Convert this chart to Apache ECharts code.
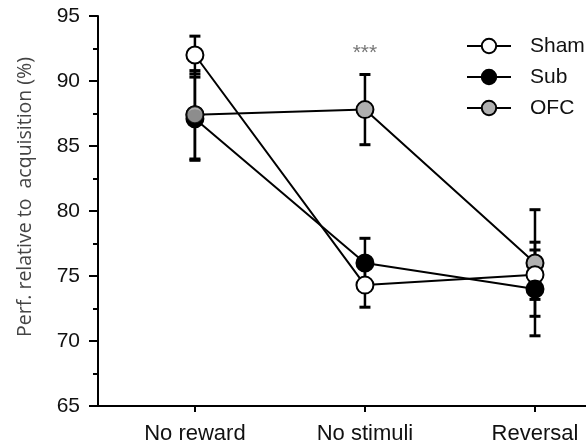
<!DOCTYPE html>
<html><head><meta charset="utf-8">
<script src="https://cdn.jsdelivr.net/npm/echarts@6/dist/echarts.min.js"></script>
<style>html,body{margin:0;padding:0;background:#fff}#c{width:586px;height:446px}</style>
</head><body><div id="c"></div>
<script>
const categories = ['No reward', 'No stimuli', 'Reversal'];
const shamMean = [92.0, 74.3, 75.1];
const shamErr  = [1.45, 1.7, 1.9];
const subMean  = [87.1, 76.0, 74.0];
const subErr   = [3.2, 1.9, 3.6];
const ofcMean  = [87.4, 87.8, 76.0];
const ofcErr   = [3.4, 2.7, 4.1];
const yTicks = [65, 70, 75, 80, 85, 90, 95];
const sigLabel = '***';

const FONT = 'Liberation Sans, Arial, Helvetica, sans-serif';
const idx = categories.map((_, i) => i);
const pts = arr => arr.map((v, i) => [i, v]);

function errSeries(name, mean, err) {
  return {
    type: 'custom', name: name + ' err', z: 1, silent: true,
    data: mean.map((v, i) => [i, v - err[i], v + err[i]]),
    renderItem: function (params, api) {
      const lo = api.coord([api.value(0), api.value(1)]);
      const hi = api.coord([api.value(0), api.value(2)]);
      const hw = 5.5;
      const st = { stroke: '#000', lineWidth: 2.5 };
      const cap = { stroke: '#000', lineWidth: 3 };
      return { type: 'group', children: [
        { type: 'line', shape: { x1: lo[0], y1: lo[1], x2: hi[0], y2: hi[1] }, style: st },
        { type: 'line', shape: { x1: lo[0] - hw, y1: lo[1], x2: lo[0] + hw, y2: lo[1] }, style: cap },
        { type: 'line', shape: { x1: hi[0] - hw, y1: hi[1], x2: hi[0] + hw, y2: hi[1] }, style: cap }
      ]};
    }
  };
}
function lineSeries(name, mean, fill, z) {
  return {
    type: 'line', name: name, data: pts(mean), z: z,
    symbol: 'circle', symbolSize: 17, showAllSymbol: true,
    lineStyle: { color: '#000', width: 2 },
    itemStyle: { color: fill, borderColor: '#000', borderWidth: 2 },
    emphasis: { disabled: true }
  };
}

const chart = echarts.init(document.getElementById('c'), null, { renderer: 'canvas' });
chart.setOption({
  animation: false,
  grid: { left: 98, right: 0, top: 16, bottom: 40 },
  legend: {
    left: 466, top: 35, orient: 'vertical', itemGap: 9, padding: 0,
    itemWidth: 44, itemHeight: 18,
    textStyle: { fontFamily: FONT, fontSize: 21, lineHeight: 22, color: '#111', padding: [0, 0, 0, 14] },
    data: ['Sham', 'Sub', 'OFC']
  },
  xAxis: {
    type: 'value', min: -0.57, max: 2.3,
    axisLine: { show: true, onZero: false, lineStyle: { color: '#000', width: 2 } },
    axisTick: { show: true, customValues: idx, length: 6, lineStyle: { color: '#000', width: 2 } },
    axisLabel: { customValues: idx, formatter: v => categories[Math.round(v)] || '',
      fontFamily: FONT, fontSize: 22, color: '#111', margin: 17 },
    splitLine: { show: false }
  },
  yAxis: {
    type: 'value', min: yTicks[0], max: yTicks[yTicks.length - 1], interval: 5,
    name: 'Perf. relative to  acquisition (%)', nameLocation: 'middle', nameGap: 63,
    nameTextStyle: { fontFamily: 'Open Sans, Noto Sans, sans-serif', fontSize: 19.5, color: '#444', padding: [0, 0, 0, 28] },
    axisLine: { show: true, onZero: false, lineStyle: { color: '#000', width: 2 } },
    axisTick: { show: true, length: 9, lineStyle: { color: '#000', width: 2 } },
    minorTick: { show: true, splitNumber: 2, length: 5, lineStyle: { color: '#000', width: 2 } },
    axisLabel: { fontFamily: FONT, fontSize: 21, color: '#111', margin: 18 },
    splitLine: { show: false }
  },
  series: [
    errSeries('OFC', ofcMean, ofcErr),
    errSeries('Sham', shamMean, shamErr),
    errSeries('Sub', subMean, subErr),
    lineSeries('OFC', ofcMean, '#b0b0b0', 2),
    Object.assign(lineSeries('Sham', shamMean, '#ffffff', 3), {
      markPoint: {
        symbol: 'circle', symbolSize: 1, itemStyle: { color: 'transparent' },
        label: { show: true, formatter: sigLabel, position: 'inside', fontFamily: FONT, fontSize: 21, color: '#777' },
        data: [{ coord: [1, 92.1] }]
      }
    }),
    lineSeries('Sub', subMean, '#000000', 4),
    {
      type: 'scatter', name: 'OFC', z: 5, data: [[0, ofcMean[0]]],
      symbol: 'circle', symbolSize: 17,
      itemStyle: { color: '#b0b0b0', borderColor: '#000', borderWidth: 2 },
      emphasis: { disabled: true }
    }
  ]
});
</script></body></html>
